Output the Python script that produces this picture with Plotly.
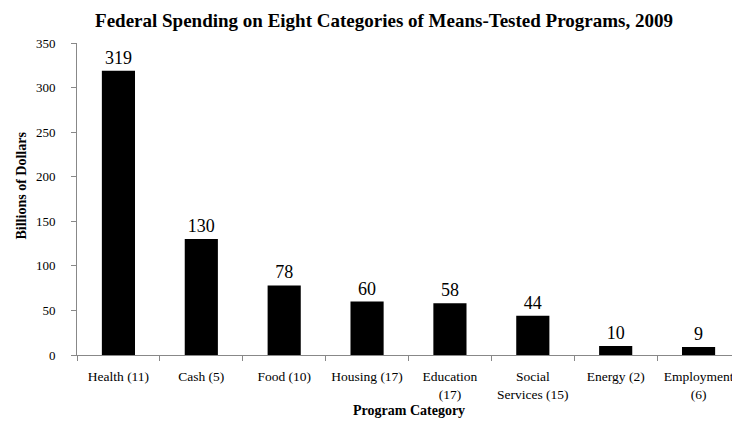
import plotly.graph_objects as go

categories = ["Health (11)", "Cash (5)", "Food (10)", "Housing (17)", "Education<br>(17)",
              "Social<br>Services (15)", "Energy (2)", "Employment<br>(6)"]
values = [319, 130, 78, 60, 58, 44, 10, 9]
yticks = [0, 50, 100, 150, 200, 250, 300, 350]

serif = "Liberation Serif"

# the page body has an 8px default margin, so the figure is sized to fit the window
W, H = 732, 415
L, R, T, B = 69, 0, 35, 68
PW, PH = W - L - R, H - T - B

fig = go.Figure(go.Bar(
    x=categories, y=values, marker=dict(color="black", line=dict(width=0)),
    text=[str(v) for v in values], textposition="outside",
    textfont=dict(family=serif, size=18, color="black"), cliponaxis=False,
))

fig.update_layout(
    width=W, height=H,
    margin=dict(l=L, r=R, t=T, b=B, autoexpand=False),
    paper_bgcolor="white", plot_bgcolor="white",
    bargap=0.6,
    showlegend=False,
    title=dict(text="<b>Federal Spending on Eight Categories of Means-Tested Programs, 2009</b>",
               x=376 / W, xanchor="center", y=1 - 12 / H, yanchor="middle", pad=dict(t=0, b=0),
               font=dict(family=serif, size=19, color="black")),
    font=dict(family=serif, color="black"),
    annotations=[
        dict(text="<b>Program Category</b>", xref="paper", yref="paper",
             x=0.5, y=-(402 - (H - B)) / PH, xanchor="center", yanchor="middle",
             showarrow=False, font=dict(family=serif, size=14, color="black")),
        dict(text="<b>Billions of Dollars</b>", xref="paper", yref="paper",
             x=(13 - L) / PW, y=((H - B) - 177.5) / PH, xanchor="center", yanchor="middle",
             textangle=-90, showarrow=False, font=dict(family=serif, size=14, color="black")),
    ],
)
fig.update_yaxes(
    range=[0, 350], tickvals=yticks, showgrid=False, zeroline=False,
    showline=True, linecolor="#888888", linewidth=1,
    ticks="outside", ticklen=5, tickcolor="#888888", ticklabelstandoff=13,
    tickfont=dict(family=serif, size=13, color="black"), automargin=False,
)
fig.update_xaxes(
    showgrid=False, showline=True, linecolor="#888888", linewidth=1,
    ticks="outside", ticklen=5, tickcolor="#888888", tickson="boundaries",
    ticklabelstandoff=9,
    tickfont=dict(family=serif, size=13.5, color="black"), tickangle=0, automargin=False,
)

fig.write_html("out.html")
